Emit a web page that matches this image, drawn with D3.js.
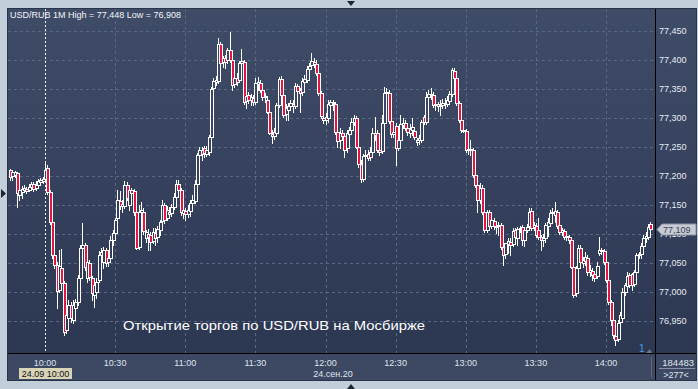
<!DOCTYPE html>
<html>
<head>
<meta charset="utf-8">
<script src="https://cdn.jsdelivr.net/npm/d3@7"></script>
<style>
  html, body { margin: 0; padding: 0; background: #c3cedb; }
  svg { display: block; }
  text { font-family: "Liberation Sans", Arial, sans-serif; }
</style>
</head>
<body>
<svg id="chart" width="698" height="389"></svg>
<script>
// 1-minute USD/RUB candles, 24.09.2020 from 09:45
var startTime = "2020-09-24 09:45";

var open = [
  77.210,77.200,77.202,77.205,77.167,77.172,77.176,77.178,77.176,77.181,77.186,77.179,77.184,77.190,77.191,
  77.195,77.214,77.172,77.121,77.064,77.047,77.003,77.041,77.016,76.934,76.955,76.978,76.952,76.972,76.983,
  77.024,77.076,77.081,77.024,77.050,77.024,76.995,77.000,77.021,77.064,77.052,77.072,77.052,77.059,77.090,
  77.102,77.128,77.157,77.148,77.148,77.184,77.150,77.176,77.174,77.138,77.078,77.138,77.138,77.093,77.100,
  77.098,77.088,77.102,77.095,77.107,77.122,77.150,77.128,77.138,77.136,77.147,77.164,77.186,77.176,77.136,
  77.140,77.134,77.140,77.153,77.157,77.186,77.236,77.245,77.248,77.238,77.241,77.267,77.352,77.362,77.364,
  77.428,77.397,77.403,77.400,77.417,77.400,77.359,77.369,77.366,77.395,77.397,77.329,77.340,77.331,77.334,
  77.328,77.359,77.360,77.348,77.336,77.331,77.310,77.272,77.269,77.274,77.322,77.367,77.340,77.307,77.314,
  77.321,77.324,77.321,77.355,77.348,77.345,77.362,77.366,77.384,77.391,77.397,77.393,77.378,77.343,77.300,
  77.297,77.300,77.322,77.328,77.324,77.276,77.262,77.274,77.269,77.248,77.272,77.279,77.293,77.300,77.250,
  77.221,77.195,77.234,77.238,77.233,77.241,77.274,77.274,77.245,77.243,77.291,77.343,77.343,77.295,77.272,
  77.286,77.248,77.262,77.288,77.291,77.283,77.274,77.279,77.278,77.259,77.262,77.262,77.302,77.293,77.336,
  77.341,77.340,77.322,77.324,77.321,77.322,77.326,77.324,77.329,77.341,77.381,77.369,77.326,77.297,77.279,
  77.278,77.245,77.247,77.245,77.202,77.184,77.159,77.179,77.138,77.107,77.138,77.114,77.122,77.112,77.114,
  77.116,77.078,77.066,77.083,77.086,77.083,77.107,77.093,77.109,77.112,77.090,77.107,77.114,77.140,77.112,
  77.114,77.107,77.095,77.090,77.093,77.114,77.119,77.136,77.133,77.138,77.116,77.103,77.105,77.097,77.095,
  77.090,77.043,76.998,77.041,77.076,77.050,77.053,77.059,77.034,77.036,77.031,77.028,77.067,77.071,77.071,
  77.052,77.021,76.983,76.952,76.924,76.919,76.948,76.955,77.000,77.010,77.029,77.031,77.014,77.034,77.064,
  77.066,77.079,77.093,77.095,77.118
];
var high = [
  77.212,77.210,77.209,77.207,77.179,77.183,77.184,77.181,77.186,77.190,77.190,77.191,77.195,77.197,77.198,
  77.224,77.219,77.176,77.124,77.067,77.052,77.072,77.074,77.019,76.983,76.986,76.983,76.986,76.988,77.029,
  77.081,77.119,77.084,77.059,77.055,77.028,77.016,77.024,77.071,77.076,77.078,77.076,77.072,77.097,77.107,
  77.128,77.176,77.174,77.159,77.191,77.190,77.183,77.179,77.178,77.141,77.150,77.155,77.145,77.107,77.109,
  77.103,77.110,77.110,77.114,77.124,77.159,77.153,77.148,77.147,77.152,77.171,77.193,77.193,77.179,77.147,
  77.145,77.150,77.159,77.167,77.193,77.240,77.250,77.250,77.252,77.252,77.271,77.353,77.369,77.372,77.438,
  77.431,77.407,77.409,77.421,77.448,77.403,77.374,77.378,77.398,77.419,77.400,77.343,77.345,77.341,77.340,
  77.369,77.371,77.366,77.352,77.343,77.336,77.314,77.279,77.283,77.326,77.371,77.372,77.343,77.324,77.326,
  77.331,77.331,77.360,77.359,77.352,77.369,77.374,77.390,77.395,77.412,77.403,77.400,77.381,77.347,77.305,
  77.309,77.331,77.331,77.331,77.328,77.279,77.283,77.279,77.272,77.279,77.284,77.300,77.305,77.303,77.253,
  77.228,77.238,77.245,77.245,77.250,77.283,77.302,77.279,77.248,77.305,77.353,77.352,77.348,77.298,77.283,
  77.291,77.271,77.305,77.300,77.297,77.288,77.290,77.300,77.284,77.266,77.271,77.297,77.305,77.345,77.348,
  77.352,77.345,77.331,77.328,77.331,77.333,77.334,77.338,77.347,77.386,77.386,77.372,77.329,77.300,77.284,
  77.281,77.267,77.262,77.248,77.205,77.188,77.188,77.184,77.141,77.141,77.141,77.129,77.128,77.121,77.121,
  77.119,77.081,77.084,77.093,77.093,77.110,77.110,77.112,77.114,77.116,77.112,77.117,77.145,77.145,77.121,
  77.119,77.128,77.098,77.100,77.119,77.128,77.141,77.145,77.155,77.141,77.121,77.110,77.109,77.102,77.098,
  77.093,77.047,77.045,77.081,77.081,77.060,77.069,77.064,77.047,77.041,77.034,77.052,77.095,77.076,77.074,
  77.055,77.024,76.986,76.955,76.929,76.952,76.966,77.007,77.016,77.034,77.033,77.033,77.038,77.067,77.069,
  77.084,77.098,77.103,77.117,77.121
];
var low = [
  77.193,77.193,77.198,77.147,77.159,77.162,77.172,77.171,77.174,77.178,77.174,77.176,77.181,77.186,77.188,
  77.193,77.169,77.117,77.059,77.041,76.972,77.000,77.012,76.926,76.929,76.943,76.948,76.947,76.952,76.978,
  77.021,77.069,77.038,77.017,77.021,76.986,76.974,76.990,77.017,77.041,77.041,77.045,77.045,77.052,77.081,
  77.098,77.126,77.143,77.138,77.145,77.159,77.141,77.159,77.133,77.074,77.074,77.129,77.100,77.086,77.072,
  77.072,77.084,77.081,77.086,77.098,77.119,77.119,77.124,77.128,77.131,77.143,77.159,77.166,77.133,77.128,
  77.124,77.129,77.131,77.148,77.153,77.183,77.228,77.228,77.233,77.234,77.236,77.266,77.348,77.357,77.360,
  77.391,77.388,77.386,77.395,77.397,77.348,77.353,77.357,77.362,77.390,77.324,77.317,77.326,77.322,77.322,
  77.324,77.348,77.345,77.331,77.328,77.309,77.272,77.257,77.264,77.271,77.319,77.336,77.302,77.297,77.297,
  77.314,77.310,77.317,77.343,77.310,77.340,77.357,77.362,77.379,77.386,77.388,77.374,77.340,77.300,77.291,
  77.290,77.293,77.314,77.314,77.272,77.250,77.248,77.262,77.233,77.241,77.262,77.274,77.288,77.248,77.216,
  77.190,77.191,77.228,77.228,77.228,77.236,77.262,77.241,77.236,77.240,77.288,77.338,77.291,77.267,77.267,
  77.219,77.245,77.260,77.283,77.279,77.271,77.267,77.271,77.264,77.253,77.255,77.259,77.290,77.290,77.331,
  77.333,77.319,77.314,77.312,77.305,77.317,77.317,77.321,77.324,77.338,77.366,77.322,77.293,77.276,77.276,
  77.241,77.238,77.236,77.198,77.181,77.138,77.153,77.134,77.103,77.103,77.107,77.110,77.109,77.102,77.098,
  77.074,77.047,77.059,77.067,77.064,77.079,77.090,77.081,77.103,77.081,77.079,77.103,77.110,77.107,77.107,
  77.095,77.091,77.072,77.079,77.086,77.097,77.116,77.128,77.121,77.110,77.100,77.098,77.091,77.090,77.084,
  77.041,76.991,76.993,77.038,77.048,77.043,77.047,77.029,77.028,77.021,77.019,77.024,77.064,77.066,77.048,
  77.017,76.979,76.943,76.921,76.908,76.916,76.943,76.950,76.995,77.007,77.009,77.003,77.010,77.031,77.059,
  77.059,77.076,77.086,77.091,77.105
];
var close = [
  77.198,77.207,77.207,77.171,77.176,77.178,77.179,77.174,77.181,77.186,77.178,77.184,77.191,77.193,77.195,
  77.210,77.172,77.121,77.064,77.047,77.002,77.045,77.016,76.931,76.960,76.978,76.955,76.978,76.983,77.024,
  77.076,77.081,77.043,77.052,77.026,76.998,77.012,77.017,77.064,77.069,77.072,77.050,77.059,77.090,77.102,
  77.124,77.159,77.148,77.152,77.184,77.162,77.176,77.171,77.138,77.076,77.138,77.141,77.105,77.103,77.095,
  77.086,77.103,77.093,77.109,77.121,77.150,77.124,77.141,77.134,77.147,77.164,77.186,77.176,77.138,77.141,
  77.134,77.141,77.153,77.159,77.186,77.236,77.245,77.238,77.240,77.245,77.267,77.350,77.364,77.366,77.428,
  77.395,77.403,77.397,77.417,77.400,77.357,77.369,77.362,77.395,77.398,77.328,77.338,77.331,77.336,77.328,
  77.360,77.362,77.348,77.336,77.338,77.310,77.274,77.269,77.276,77.322,77.367,77.340,77.305,77.317,77.321,
  77.326,77.321,77.355,77.347,77.343,77.364,77.367,77.384,77.390,77.398,77.393,77.378,77.343,77.303,77.297,
  77.302,77.324,77.328,77.326,77.276,77.260,77.274,77.269,77.245,77.274,77.279,77.293,77.300,77.250,77.221,
  77.195,77.234,77.236,77.231,77.241,77.274,77.271,77.245,77.241,77.291,77.343,77.345,77.295,77.272,77.276,
  77.248,77.262,77.290,77.291,77.283,77.276,77.281,77.284,77.267,77.262,77.266,77.293,77.293,77.336,77.341,
  77.340,77.322,77.324,77.321,77.322,77.326,77.324,77.331,77.341,77.383,77.369,77.326,77.297,77.279,77.278,
  77.245,77.247,77.245,77.202,77.184,77.159,77.179,77.138,77.107,77.138,77.114,77.124,77.114,77.114,77.116,
  77.078,77.064,77.084,77.088,77.081,77.105,77.095,77.109,77.110,77.090,77.107,77.112,77.138,77.110,77.116,
  77.098,77.095,77.090,77.093,77.116,77.121,77.136,77.138,77.140,77.114,77.103,77.107,77.095,77.095,77.090,
  77.043,76.995,77.041,77.076,77.052,77.055,77.060,77.034,77.038,77.029,77.024,77.045,77.072,77.072,77.052,
  77.021,76.983,76.952,76.926,76.917,76.947,76.960,77.000,77.012,77.028,77.012,77.012,77.034,77.064,77.066,
  77.079,77.093,77.097,77.112,77.109
];

var priceTicks = [76.95, 77.00, 77.05, 77.10, 77.15, 77.20, 77.25, 77.30, 77.35, 77.40, 77.45];
var timeTicks = ["10:00", "10:30", "11:00", "11:30", "12:00", "12:30", "13:00", "13:30", "14:00"];
var sessionOpen = "10:00";
var dayLabel = "24.сен.20";
var cursorLabel = "24.09 10:00";
var volumeLabel = "184483";
var barsLabel = ">277<";
var caption = "Открытие торгов по USD/RUB на Мосбирже";

var parse = d3.timeParse("%Y-%m-%d %H:%M");
var day = startTime.slice(0, 10);
var t0 = parse(startTime);
var candles = close.map(function(c, i) {
  return { t: d3.timeMinute.offset(t0, i), o: open[i], h: high[i], l: low[i], c: c };
});

var plot = { left: 8, right: 655, top: 9, bottom: 353, axisBottom: 380, outerRight: 696 };

var x = d3.scaleTime()
  .domain([parse(day + " 10:00"), parse(day + " 14:00")])
  .range([45, 606]);
var y = d3.scaleLinear()
  .domain([76.95, 77.45])
  .range([321, 31]);

var ru = d3.formatLocale({ decimal: ",", thousands: " ", grouping: [3], currency: ["", ""] });
var fmt = ru.format(".3f");

var svg = d3.select("#chart");

// background gradient, also used to fill hollow candles
var grad = svg.append("defs").append("linearGradient")
  .attr("id", "bg")
  .attr("gradientUnits", "userSpaceOnUse")
  .attr("x1", 0).attr("y1", plot.top).attr("x2", 0).attr("y2", plot.bottom);
grad.append("stop").attr("offset", 0).attr("stop-color", "#3f4c68");
grad.append("stop").attr("offset", 1).attr("stop-color", "#2c3752");

svg.append("rect").attr("width", 698).attr("height", 389).attr("fill", "#c3cedb");
svg.append("rect")
  .attr("x", plot.left).attr("y", plot.top)
  .attr("width", plot.outerRight - plot.left).attr("height", plot.bottom - plot.top)
  .attr("fill", "url(#bg)");
svg.append("rect")
  .attr("x", plot.left).attr("y", plot.bottom)
  .attr("width", plot.outerRight - plot.left).attr("height", plot.axisBottom - plot.bottom)
  .attr("fill", "#3d4862");
svg.append("rect")
  .attr("x", plot.left - 0.5).attr("y", plot.top - 0.5)
  .attr("width", plot.outerRight - plot.left + 1).attr("height", plot.axisBottom - plot.top + 1)
  .attr("fill", "none").attr("stroke", "#2a3348");

// grid
svg.append("g").selectAll("line")
  .data(priceTicks)
  .enter().append("line")
  .attr("x1", plot.left).attr("x2", plot.right)
  .attr("y1", function(d) { return Math.round(y(d)) + 0.5; })
  .attr("y2", function(d) { return Math.round(y(d)) + 0.5; })
  .attr("stroke", "#5a6784").attr("stroke-dasharray", "3,3");

svg.append("g").selectAll("line")
  .data(timeTicks)
  .enter().append("line")
  .attr("x1", function(d) { return Math.round(x(parse(day + " " + d))) + 0.5; })
  .attr("x2", function(d) { return Math.round(x(parse(day + " " + d))) + 0.5; })
  .attr("y1", plot.top).attr("y2", plot.bottom)
  .attr("stroke", function(d) { return d === sessionOpen ? "#eef1f6" : "#5a6784"; })
  .attr("stroke-dasharray", function(d) { return d === sessionOpen ? "2,2" : "3,3"; });

// candles
var cg = svg.append("g").attr("shape-rendering", "crispEdges");
var cs = cg.selectAll("g")
  .data(candles)
  .enter().append("g");

cs.append("line")
  .attr("x1", function(d) { return Math.round(x(d.t)) + 0.5; })
  .attr("x2", function(d) { return Math.round(x(d.t)) + 0.5; })
  .attr("y1", function(d) { return Math.round(y(d.h)); })
  .attr("y2", function(d) { return Math.round(y(d.l)) + 1; })
  .attr("stroke", "#ffffff");

cs.append("rect")
  .attr("x", function(d) { return Math.round(x(d.t)) - 0.5; })
  .attr("y", function(d) { return Math.round(y(Math.max(d.o, d.c))) + 0.5; })
  .attr("width", 3)
  .attr("height", function(d) { return Math.max(1, Math.round(y(Math.min(d.o, d.c))) - Math.round(y(Math.max(d.o, d.c)))); })
  .attr("fill", function(d) { return d.c < d.o ? "#e3163f" : "url(#bg)"; })
  .attr("stroke", "#ffffff");

// frame lines
svg.append("line")
  .attr("x1", plot.left).attr("x2", plot.outerRight)
  .attr("y1", plot.bottom + 0.5).attr("y2", plot.bottom + 0.5)
  .attr("stroke", "#000");
svg.append("line")
  .attr("x1", plot.right + 0.5).attr("x2", plot.right + 0.5)
  .attr("y1", plot.top).attr("y2", plot.axisBottom)
  .attr("stroke", "#000");

// price axis
svg.append("g").selectAll("text")
  .data(priceTicks)
  .enter().append("text")
  .attr("x", 659)
  .attr("y", function(d) { return y(d) + 3; })
  .attr("font-size", "9px")
  .attr("fill", "#e6ebf3")
  .text(function(d) { return fmt(d); });

// last price marker
var last = candles[candles.length - 1];
var ly = Math.round(y(last.c));
svg.append("path")
  .attr("d", "M657," + (ly + 0.5) + "L662," + (ly - 5) + "L696," + (ly - 5) + "L696," + (ly + 6) + "L662," + (ly + 6) + "Z")
  .attr("fill", "#c6cad2").attr("stroke", "#8c93a2");
svg.append("text")
  .attr("x", 663).attr("y", ly + 4)
  .attr("font-size", "9px")
  .attr("fill", "#3a445c")
  .text(fmt(last.c));

// time axis
svg.append("g").selectAll("text")
  .data(timeTicks)
  .enter().append("text")
  .attr("x", function(d) { return x(parse(day + " " + d)); })
  .attr("y", 365.5)
  .attr("text-anchor", "middle")
  .attr("font-size", "9px")
  .attr("fill", "#dfe5ee")
  .text(function(d) { return d; });

svg.append("rect")
  .attr("x", 19).attr("y", 368).attr("width", 53).attr("height", 11)
  .attr("fill", "#d9d4b8");
svg.append("text")
  .attr("x", 45.5).attr("y", 377)
  .attr("text-anchor", "middle")
  .attr("font-size", "9px")
  .attr("fill", "#111")
  .text(cursorLabel);
svg.append("text")
  .attr("x", 333).attr("y", 377)
  .attr("text-anchor", "middle")
  .attr("font-size", "9px")
  .attr("fill", "#dfe5ee")
  .text(dayLabel);

svg.append("line")
  .attr("x1", 651.5).attr("x2", 651.5).attr("y1", 357).attr("y2", 378)
  .attr("stroke", "#5b6479");
svg.append("text")
  .attr("x", 694).attr("y", 365.5)
  .attr("text-anchor", "end")
  .attr("font-size", "9.5px")
  .attr("fill", "#dfe5ee")
  .text(volumeLabel);
svg.append("line")
  .attr("x1", 659).attr("x2", 695).attr("y1", 368.5).attr("y2", 368.5)
  .attr("stroke", "#8a93a6");
svg.append("text")
  .attr("x", 676).attr("y", 377.5)
  .attr("text-anchor", "middle")
  .attr("font-size", "9px")
  .attr("fill", "#dfe5ee")
  .text(barsLabel);

// header
var hi = d3.max(high), lo = d3.min(low);
svg.append("text")
  .attr("x", 10).attr("y", 18)
  .attr("font-size", "9px")
  .attr("fill", "#f2f4f8")
  .text("USD/RUB 1M High = " + fmt(hi) + " Low = " + fmt(lo));

// caption
svg.append("text")
  .attr("x", 123).attr("y", 330)
  .attr("font-family", "'DejaVu Sans', sans-serif")
  .attr("font-size", "13.5px")
  .attr("textLength", 302)
  .attr("lengthAdjust", "spacingAndGlyphs")
  .attr("fill", "#ffffff")
  .text(caption);

// small markers
svg.append("text")
  .attr("x", 639).attr("y", 352)
  .attr("font-size", "10px")
  .attr("fill", "#4a9be8")
  .text("1");
svg.append("path").attr("d", "M646,353L650,349L652,353Z").attr("fill", "#6a7389");
svg.append("path").attr("d", "M347,1L355,1L351,6Z").attr("fill", "#1c2331");
svg.append("path").attr("d", "M347,389L355,389L351,384Z").attr("fill", "#1c2331");
svg.append("path").attr("d", "M1,189L6,193.5L1,198Z").attr("fill", "#1c2331");
</script>
</body>
</html>
